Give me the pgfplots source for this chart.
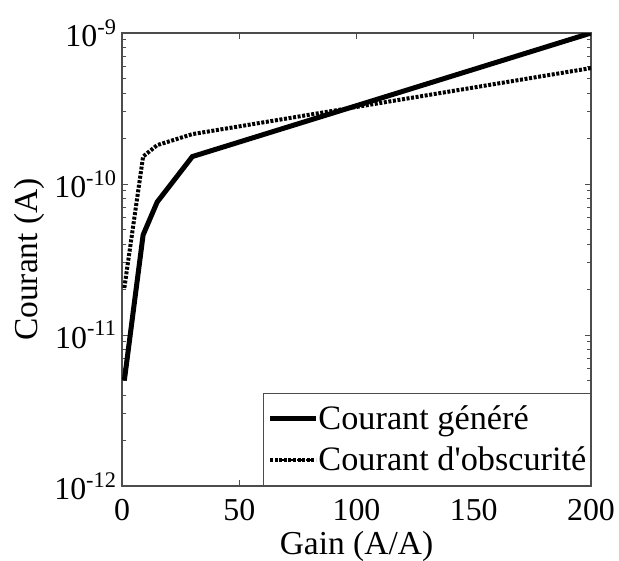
\documentclass[border=0pt]{standalone}
\usepackage{fontspec}
\setmainfont{Liberation Serif}
\usepackage{pgfplots}
\pgfplotsset{compat=1.18}
\pgfplotstableread{
x y
1 5.0e-12
9 4.6e-11
15 7.6e-11
30 1.52e-10
200 1.0e-9
}\gen
\pgfplotstableread{
x y
1 2.05e-11
9 1.52e-10
15 1.81e-10
30 2.14e-10
200 5.86e-10
}\obs
\begin{document}
\begin{tikzpicture}
\path[use as bounding box] (-61bp,-37.5bp) rectangle (248.5bp,243bp);
\begin{axis}[
  at={(0,0)}, anchor=south west,
  scale only axis, width=234.5bp, height=226.5bp,
  ymode=log, xmin=0, xmax=200, ymin=1e-12, ymax=1e-9,
  xtick={0,50,100,150,200},
  xticklabels={0,50,100,150,200},
  ytick={1e-12,1e-11,1e-10,1e-9},
  yticklabels={10\textsuperscript{-12},10\textsuperscript{-11},10\textsuperscript{-10},10\textsuperscript{-9}},
  tick align=inside,
  major tick length=3bp, minor tick length=2bp,
  axis line style={gray!60!black, line width=0.6pt},
  every tick/.style={gray!60!black, line width=0.5pt},
  tick label style={font=\fontsize{16}{19}\selectfont, black},
  yticklabel style={xshift=1bp},
  xticklabel style={anchor=center, yshift=-12bp, inner sep=0pt},
  label style={font=\fontsize{16.8}{19}\selectfont},
  xlabel={Gain (A/A)},
  ylabel={Courant (A)},
  xlabel style={at={(axis description cs:0.5,-0.1325)}, anchor=center, inner sep=0pt},
  ylabel style={at={(axis description cs:-0.1983,0.5)}, anchor=center},
  legend style={at={(rel axis cs:1,0)}, anchor=south east,
    draw=gray!60!black, line width=0.6pt, font=\fontsize{17.2}{19}\selectfont,
    inner xsep=2bp, inner ysep=2.5bp, row sep=0pt,
    nodes={inner sep=0pt, text height=15.75bp, text depth=4.75bp},
    cells={anchor=west}},
  legend cell align=left,
]
\addplot[black, line width=2.5bp,
  legend image code/.code={\path (0bp,0bp) -- (23bp,0bp);
    \draw[black, line width=1.4bp] (3bp,0bp) -- (22bp,0bp);}]
  table[x=x,y=y]{\gen};
\addlegendentry{Courant généré\hspace{3.5bp}}
\addplot[black, line width=2bp, dash pattern=on 1.5bp off 0.8bp,
  legend image code/.code={\path (0bp,0bp) -- (23bp,0bp);
    \draw[black, line width=1.1bp, dash pattern=on 1bp off 0.5bp] (3bp,0bp) -- (22bp,0bp);}]
  table[x=x,y=y]{\obs};
\addlegendentry{Courant d\textquotesingle obscurité\hspace{3.5bp}}
\end{axis}
\end{tikzpicture}
\end{document}
